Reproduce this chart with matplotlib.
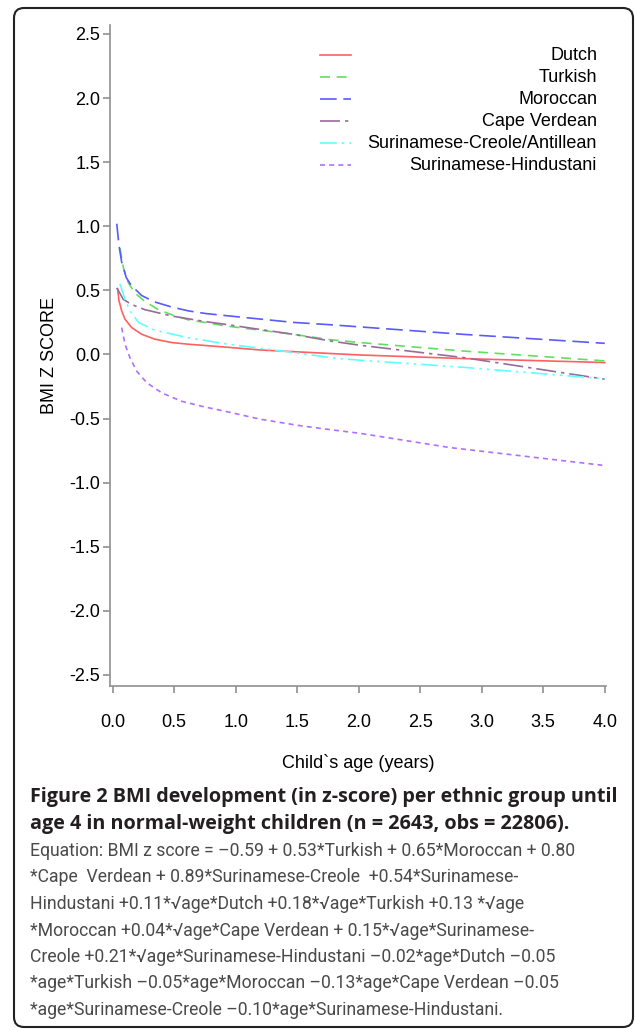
import matplotlib
matplotlib.use("Agg")
import matplotlib.pyplot as plt
from matplotlib.patches import FancyBboxPatch
from matplotlib.transforms import IdentityTransform

plt.rcParams['font.family'] = ['Liberation Sans', 'DejaVu Sans']
plt.rcParams['axes.unicode_minus'] = False

# values (age in years, BMI z score)
groups = ['Dutch', 'Turkish', 'Moroccan', 'Cape Verdean',
          'Surinamese-Creole/Antillean', 'Surinamese-Hindustani']

dutch_age = [0.04, 0.051, 0.073, 0.10, 0.154, 0.235, 0.34, 0.48, 0.615, 0.90, 1.2, 1.74, 2.01, 2.85, 4.0]
dutch_z = [0.51, 0.42, 0.34, 0.275, 0.21, 0.158, 0.12, 0.093, 0.08, 0.059, 0.035, 0.009, -0.004, -0.032, -0.063]

turkish_age = [0.059, 0.086, 0.127, 0.18, 0.26, 0.37, 0.48, 0.615, 0.75, 0.90, 1.47, 1.77, 2.01, 2.85, 4.0]
turkish_z = [0.83, 0.68, 0.56, 0.48, 0.415, 0.35, 0.31, 0.27, 0.25, 0.225, 0.157, 0.115, 0.093, 0.027, -0.05]

moroccan_age = [0.033, 0.051, 0.073, 0.11, 0.15, 0.235, 0.34, 0.48, 0.615, 0.75, 0.90, 1.47, 1.77, 2.01, 2.85, 4.0]
moroccan_z = [1.02, 0.85, 0.72, 0.60, 0.54, 0.46, 0.41, 0.37, 0.34, 0.32, 0.305, 0.25, 0.232, 0.215, 0.157, 0.087]

capeverdean_age = [0.033, 0.086, 0.153, 0.26, 0.48, 0.75, 0.90, 1.47, 1.77, 2.01, 2.85, 4.0]
capeverdean_z = [0.52, 0.43, 0.39, 0.35, 0.30, 0.257, 0.237, 0.157, 0.105, 0.072, -0.024, -0.193]

creole_age = [0.059, 0.10, 0.14, 0.21, 0.34, 0.48, 0.615, 0.75, 0.90, 1.47, 1.82, 2.01, 2.85, 3.72, 4.0]
creole_z = [0.55, 0.43, 0.34, 0.25, 0.19, 0.16, 0.13, 0.11, 0.085, 0.015, -0.03, -0.045, -0.10, -0.168, -0.19]

hindustani_age = [0.073, 0.10, 0.14, 0.195, 0.276, 0.40, 0.56, 0.75, 0.90, 1.2, 1.52, 1.74, 2.01, 2.74, 3.98]
hindustani_z = [0.21, 0.08, -0.025, -0.13, -0.22, -0.30, -0.365, -0.41, -0.44, -0.505, -0.555, -0.583, -0.615, -0.726, -0.864]

ages = [dutch_age, turkish_age, moroccan_age, capeverdean_age, creole_age, hindustani_age]
zs = [dutch_z, turkish_z, moroccan_z, capeverdean_z, creole_z, hindustani_z]

colors = ['#ff6060', '#60e060', '#5a5aff', '#9a6a9a', '#60ffff', '#b070ff']
dashes = [(None, None), (6, 4), (10, 4), (12, 3, 2, 3), (10, 3, 1.5, 3, 1.5, 3), (3, 2.5)]

fig = plt.figure(figsize=(6.35, 10.3), dpi=100)
ax = fig.add_axes([110 / 635, 344 / 1030, 496 / 635, 661 / 1030])

for i in range(len(groups)):
    ln, = ax.plot(ages[i], zs[i], color=colors[i], lw=1.2)
    if dashes[i][0] is not None:
        ln.set_dashes(dashes[i])

ax.set_xlim(-0.022, 4.01)
ax.set_ylim(-2.586, 2.57)
ax.set_xticks([0, 0.5, 1, 1.5, 2, 2.5, 3, 3.5, 4])
ax.set_yticks([-2.5, -2, -1.5, -1, -0.5, 0, 0.5, 1, 1.5, 2, 2.5])
ax.xaxis.set_major_formatter(matplotlib.ticker.FormatStrFormatter('%.1f'))
ax.yaxis.set_major_formatter(matplotlib.ticker.FormatStrFormatter('%.1f'))
for s in ['top', 'right']:
    ax.spines[s].set_visible(False)
for s in ['left', 'bottom']:
    ax.spines[s].set_color('#909090')
    ax.spines[s].set_linewidth(1.2)
ax.tick_params(colors='#909090', labelcolor='black', labelsize=13, length=5, width=1.2, pad=2)
ax.tick_params(axis='x', pad=15)
ax.set_xlabel("Child`s age (years)", fontsize=13, labelpad=17)
ax.set_ylabel("BMI Z SCORE", fontsize=13, labelpad=8)

# legend drawn by hand so the text is right-aligned as in the original
for i, name in enumerate(groups):
    yf = 1 - (55 + 22 * i - 25) / 661
    ln, = ax.plot([0.423, 0.486], [yf, yf], transform=ax.transAxes, color=colors[i], lw=1.2)
    if dashes[i][0] is not None:
        ln.set_dashes(dashes[i])
    ax.text(0.982, yf, name, transform=ax.transAxes, ha='right', va='center', fontsize=13)

# caption
cap_bold = ["Figure 2 BMI development (in z-score) per ethnic group until",
            "age 4 in normal-weight children (n = 2643, obs = 22806)."]
cap_eq = ["Equation: BMI z score = –0.59 + 0.53*Turkish + 0.65*Moroccan + 0.80",
          "*Cape  Verdean + 0.89*Surinamese-Creole  +0.54*Surinamese-",
          "Hindustani +0.11*√age*Dutch +0.18*√age*Turkish +0.13 *√age",
          "*Moroccan +0.04*√age*Cape Verdean + 0.15*√age*Surinamese-",
          "Creole +0.21*√age*Surinamese-Hindustani –0.02*age*Dutch –0.05",
          "*age*Turkish –0.05*age*Moroccan –0.13*age*Cape Verdean –0.05",
          "*age*Surinamese-Creole –0.10*age*Surinamese-Hindustani."]
for k, t in enumerate(cap_bold):
    fig.text(30 / 635, 1 - (797 + 27 * k) / 1030, t, fontsize=14.2, fontweight='bold',
             family=['Open Sans', 'DejaVu Sans'], color='#231f20', va='center')
for k, t in enumerate(cap_eq):
    fig.text(30 / 635, 1 - (851 + 26.5 * k) / 1030, t, fontsize=12.7, fontweight='normal',
             family=['Roboto', 'DejaVu Sans'], color='#4a4a4a', va='center')

box = FancyBboxPatch((14, 3), 619, 1019, boxstyle='round,pad=0,rounding_size=10',
                     transform=IdentityTransform(), fill=False, ec='#222222', lw=1.5)
fig.patches.append(box)

fig.savefig('out.png', dpi=100)
